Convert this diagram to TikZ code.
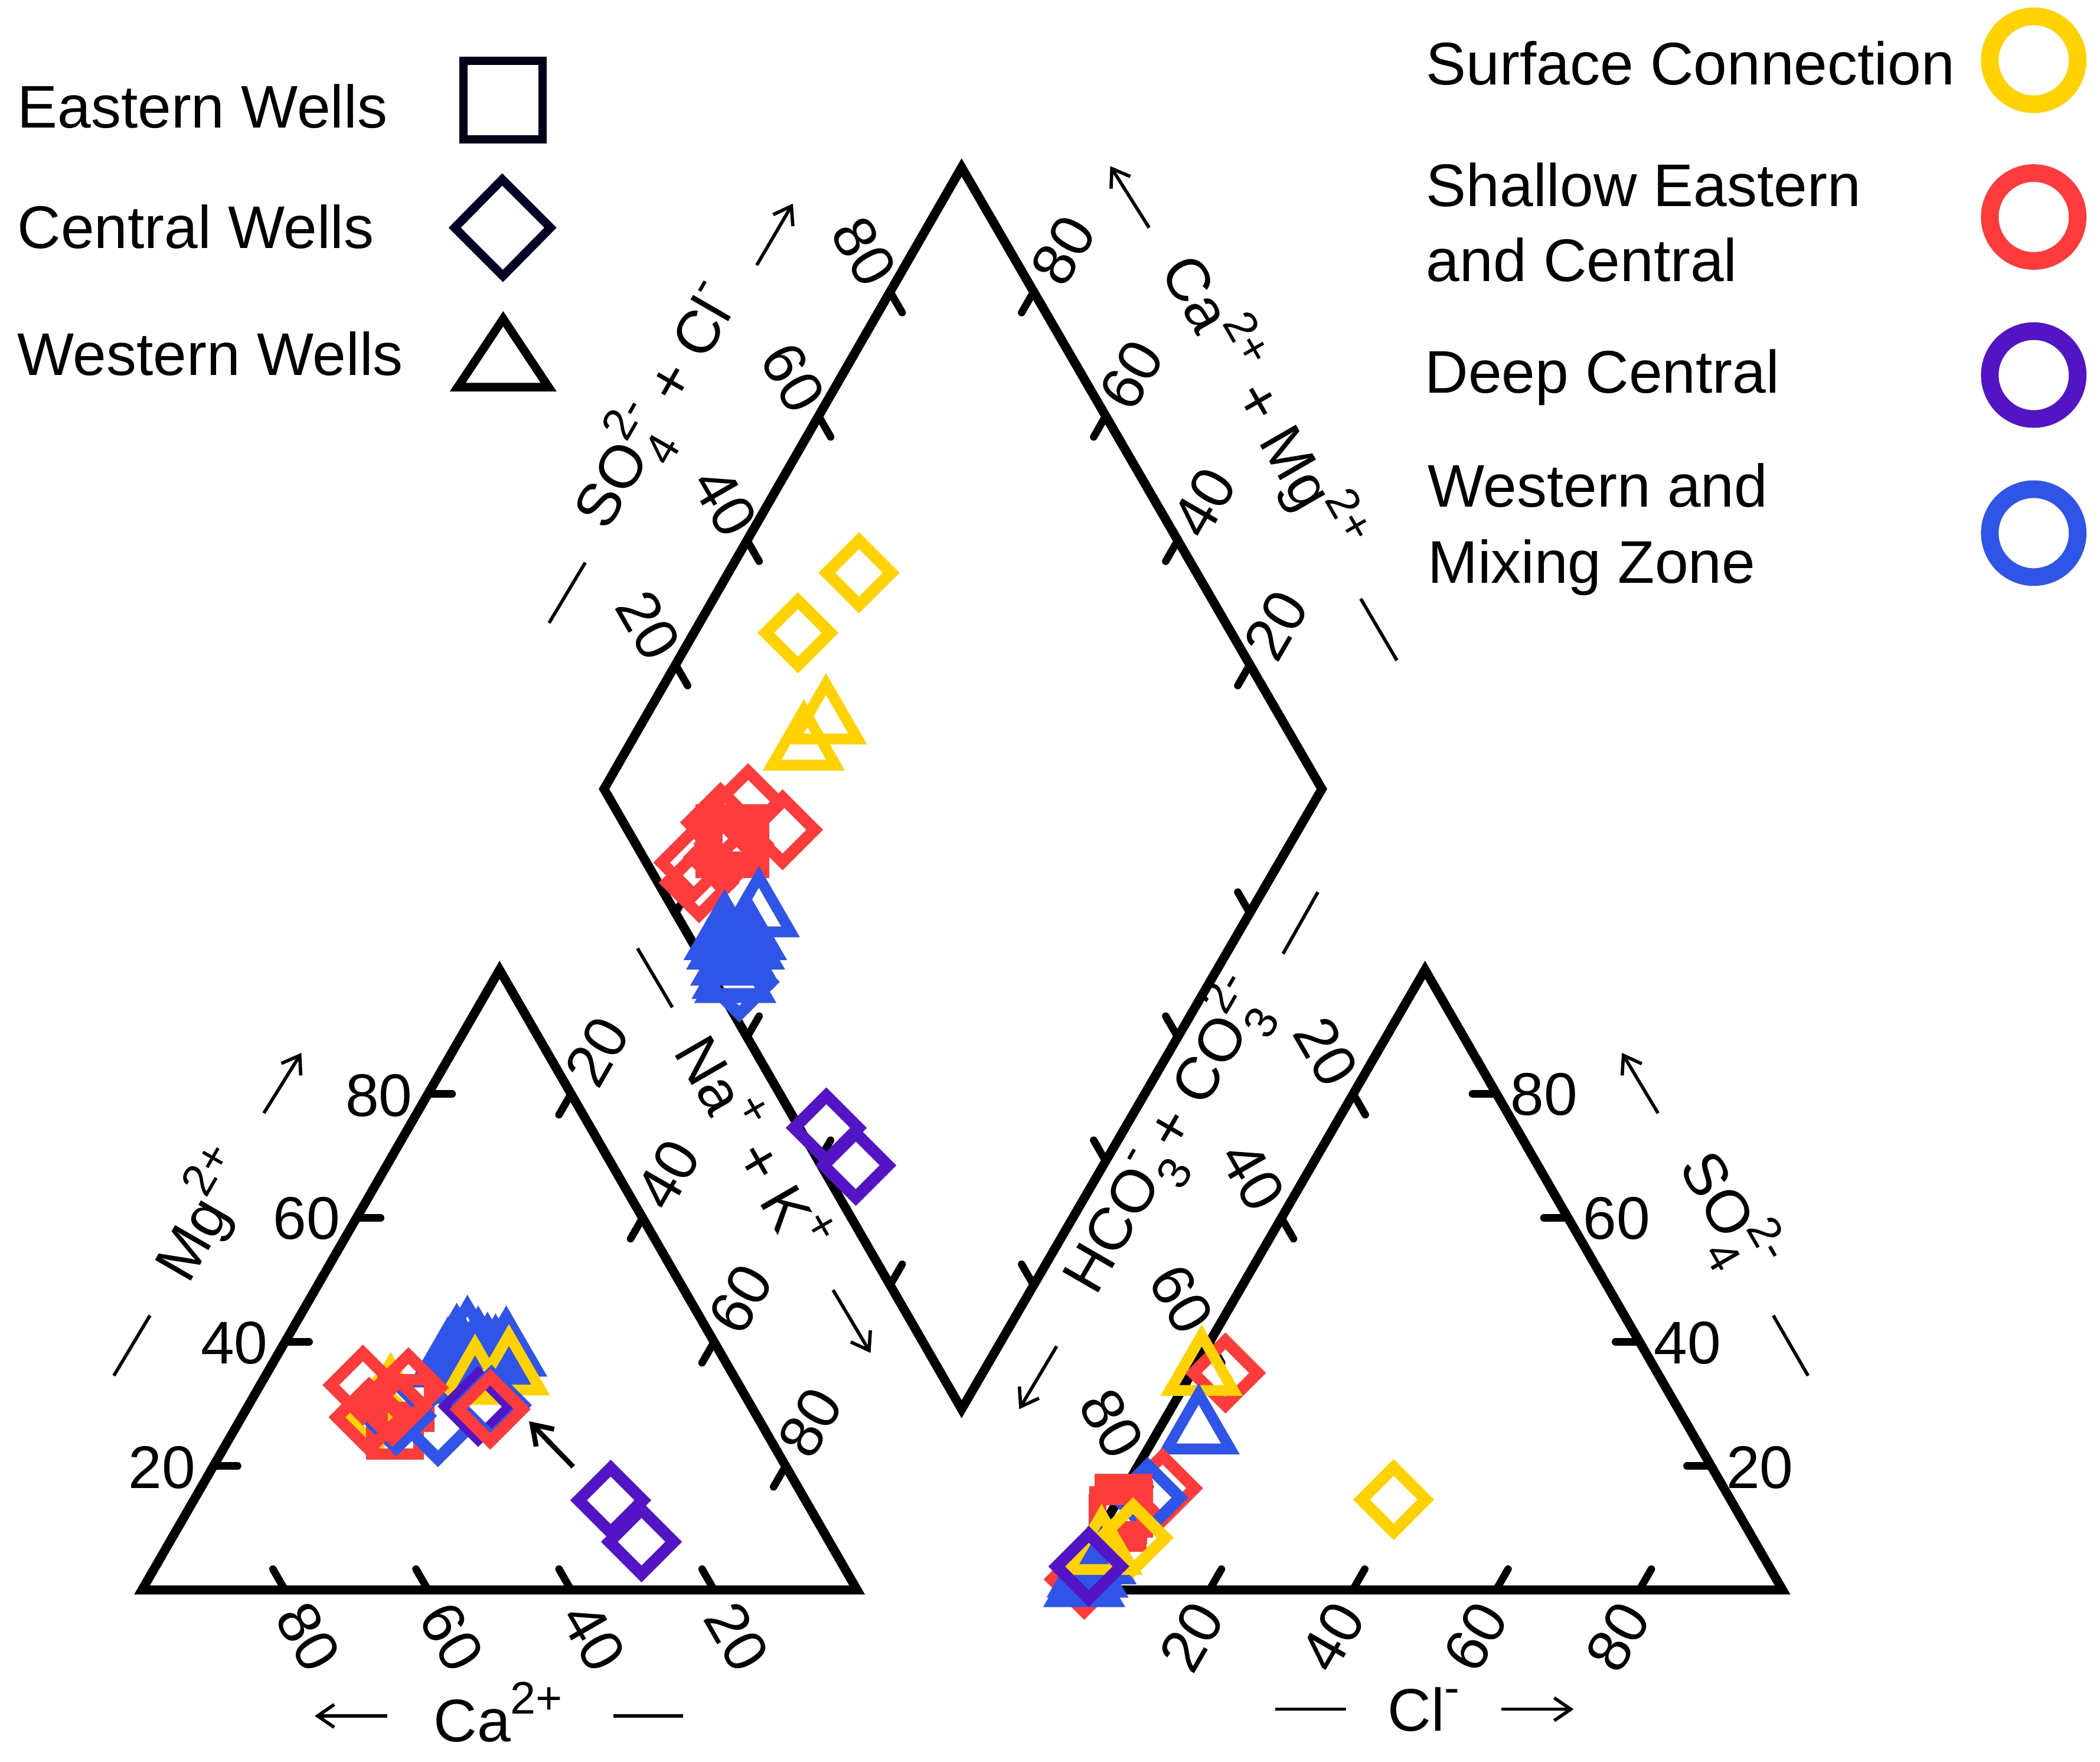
\documentclass[tikz,border=0pt]{standalone}
\usepackage{fontspec}
\setmainfont{Liberation Sans}
\usetikzlibrary{calc,arrows.meta}
\definecolor{cy}{HTML}{FFD200}
\definecolor{cr}{HTML}{FF3B3B}
\definecolor{cp}{HTML}{5314C6}
\definecolor{cb}{HTML}{2F55E8}
\newcommand\tsup[1]{\raisebox{.46em}{\fontsize{22}{22}\selectfont #1}}
\newcommand\tssb[2]{\rlap{\raisebox{-.36em}{\fontsize{22}{22}\selectfont #1}}\raisebox{.46em}{\fontsize{22}{22}\selectfont #2}}
\newcommand\lab[4]{\node[txt,rotate=#4] (#1) at (#2) {#3};}
\newcommand\leg[3]{\node[txt,anchor=west] (#1) at (#2) {#3};}
\newcommand\mdia[3]{\draw[mk,draw=#1] (#2,#3) ++(0,-24) -- ++(24,24) -- ++(-24,24) -- ++(-24,-24) -- cycle;}
\newcommand\mtri[3]{\draw[mk,draw=#1,line width=5.2pt] (#2,#3) ++(0,-27.4) -- ++(23.7,41.1) -- ++(-47.4,0) -- cycle;}
\newcommand\ftri[3]{\draw[mk,draw=#1,fill=#1,line width=5.2pt] (#2,#3) ++(0,-27.4) -- ++(23.7,41.1) -- ++(-47.4,0) -- cycle;}
\newcommand\msq[3]{\draw[mk,draw=#1,line width=5.2pt] (#2,#3) ++(-17.5,-17.5) -- ++(35,0) -- ++(0,35) -- ++(-35,0) -- cycle;}
\newcommand\axa[5]{\coordinate (#1s) at (#2,#3); \coordinate (#1e) at (#4,#5); \draw[thinarrow] (#1s) -- (#1e);}
\newcommand\axd[5]{\coordinate (#1s) at (#2,#3); \coordinate (#1e) at (#4,#5); \draw[thinline] (#1s) -- (#1e);}
\newcommand\ticks[4]{\foreach \f in {.2,.4,.6,.8} \draw[tickline] ($(#1)!\f!(#2)$) -- ++(#3,#4);}
\tikzset{
  txt/.style={inner sep=0pt,outer sep=0pt,font=\fontsize{29}{29}\selectfont,text height=19.7pt,text depth=0pt,text=black},
  axisline/.style={line width=4.4pt,miter limit=10,line join=miter,black},
  tickline/.style={line width=3.6pt,line cap=round,black},
  thinline/.style={line width=1.6pt,black},
  thinarrow/.style={line width=1.6pt,black,-{Straight Barb[length=8pt,width=11pt,line width=1.6pt]}},
  mk/.style={line width=5.7pt,line join=miter,miter limit=10},
  ring/.style={line width=8.5pt},
}
\begin{document}
\begin{tikzpicture}[x=0.022685cm,y=-0.022685cm]
\useasboundingbox (0,0) rectangle (1568,1315);
% vertices
\coordinate (dT) at (718,125); \coordinate (dR) at (987,589);
\coordinate (dB) at (718,1052); \coordinate (dL) at (451,589);
\coordinate (lA) at (106,1187); \coordinate (lB) at (640,1187); \coordinate (lC) at (373,724);
\coordinate (rA) at (796,1187); \coordinate (rB) at (1331,1187); \coordinate (rC) at (1064,724);
% frames
\draw[axisline] (dT) -- (dR) -- (dB) -- (dL) -- cycle;
\draw[axisline] (lA) -- (lB) -- (lC) -- cycle;
\draw[axisline] (rA) -- (rB) -- (rC) -- cycle;
% ticks
\ticks{dL}{dT}{9}{15.6}
\ticks{dT}{dR}{-9}{15.6}
\ticks{dL}{dB}{9}{-15.6}
\ticks{dR}{dB}{-9}{-15.6}
\ticks{lA}{lB}{-9}{-15.6}
\ticks{lA}{lC}{18}{0}
\ticks{lC}{lB}{-9}{15.6}
\ticks{rA}{rB}{9}{-15.6}
\ticks{rB}{rC}{-18}{0}
\ticks{rC}{rA}{9}{15.6}
% tick labels
\lab{a1}{645,188}{80}{-60}\lab{a2}{592,282}{60}{-60}\lab{a3}{541,375}{40}{-60}\lab{a4}{484,467}{20}{-60}
\lab{b1}{794,187}{80}{60}\lab{b2}{845,280}{60}{60}\lab{b3}{899,375}{40}{60}\lab{b4}{953,467}{20}{60}
\lab{c1}{283,818}{80}{0}\lab{c2}{229,910}{60}{0}\lab{c3}{175,1003}{40}{0}\lab{c4}{121,1096}{20}{0}
\lab{e1}{446,785}{20}{60}\lab{e2}{499,877}{40}{60}\lab{e3}{553,970}{60}{60}\lab{e4}{605,1062}{80}{60}
\lab{f1}{230,1222}{80}{-60}\lab{f2}{337,1222}{60}{-60}\lab{f3}{443,1222}{40}{-60}\lab{f4}{550,1222}{20}{-60}
\lab{g1}{990,785}{20}{-60}\lab{g2}{935,878}{40}{-60}\lab{g3}{882,970}{60}{-60}\lab{g4}{830,1063}{80}{-60}
\lab{h1}{1153,817}{80}{0}\lab{h2}{1207,910}{60}{0}\lab{h3}{1260,1003}{40}{0}\lab{h4}{1314,1096}{20}{0}
\lab{i1}{890,1222}{20}{60}\lab{i2}{995,1222}{40}{60}\lab{i3}{1102,1222}{60}{60}\lab{i4}{1208,1222}{80}{60}
% axis titles
\lab{t1}{490,303}{SO\tssb{4}{2-} + Cl\tsup{-}}{60}
\lab{t2}{941,302}{Ca\tsup{2+} + Mg\tsup{2+}}{-60}
\lab{t3}{560,855}{Na\tsup{+} + K\tsup{+}}{-60}
\lab{t4}{870,848}{HCO\tssb{3}{-} + CO\tssb{3}{2-}}{60}
\lab{t5}{153,908}{Mg\tsup{2+}}{60}
\lab{t6}{1290,905}{SO\tssb{4}{2-}}{-60}
\lab{t7}{372,1285}{Ca\tsup{2+}}{0}
\lab{t8}{1063,1277}{Cl\tsup{-}}{0}
% axis arrows and dashes
\axa{p1}{565}{198}{592}{152} \axd{q1}{410}{465}{437}{420}
\axa{p2}{858}{170}{829}{124} \axd{q2}{1043}{493}{1016}{447}
\axa{p3}{622}{963}{650}{1010} \axd{q3}{502}{752}{476}{708}
\axa{p4}{789}{1005}{761}{1052} \axd{q4}{984}{666}{958}{712}
\axa{p5}{197}{831}{225}{786} \axd{q5}{85}{1027}{112}{982}
\axa{p6}{1238}{831}{1211}{786} \axd{q6}{1350}{1027}{1324}{982}
\axa{p7}{289}{1281}{235}{1281} \axd{q7}{510}{1281}{458}{1281}
\axa{p8}{1121}{1276}{1175}{1276} \axd{q8}{952}{1276}{1005}{1276}
% --- diamond panel markers
\mdia{cy}{641.4}{427.6}\mdia{cy}{595.8}{472.4}
\mtri{cy}{616.7}{538}\mtri{cy}{600.2}{557.5}
\mdia{cr}{558.6}{600}\mdia{cr}{584.3}{619.5}\mdia{cr}{538}{614}
\mdia{cr}{518}{644}\mdia{cr}{522}{659}\mdia{cr}{548}{630}\mdia{cr}{540}{640}
\msq{cr}{547}{628}\msq{cr}{541}{622}\msq{cr}{553}{634}\msq{cr}{541}{634}\msq{cr}{553}{622}
\mtri{cb}{566.6}{682}
\ftri{cb}{541}{699}\ftri{cb}{557}{699}\ftri{cb}{543}{706}\ftri{cb}{555.5}{706}
\ftri{cb}{546}{718}\ftri{cb}{551}{716}
\mtri{cb}{547}{728}\mtri{cb}{549}{731}
\mdia{cb}{552}{733}
\mdia{cp}{617}{842}\mdia{cp}{639}{870}
% --- left triangle markers
\mtri{cb}{349}{1002}\mtri{cb}{364}{1014.6}\mtri{cb}{334.5}{1018}\mtri{cb}{377}{1020}
\mtri{cb}{354}{1022}\mtri{cb}{378}{1010}\mtri{cb}{341}{1008}\mtri{cb}{357}{1010}\mtri{cb}{370}{1016}\mtri{cb}{345}{1016}
\mtri{cy}{354.7}{1031}\mtri{cy}{380}{1024}\mtri{cy}{291.7}{1044.7}
\mdia{cy}{281}{1056}
\msq{cr}{303}{1047.5}\msq{cr}{295}{1068}
\mdia{cb}{327}{1065}\mdia{cb}{296}{1057}
\mdia{cp}{357}{1050}\mdia{cb}{367}{1049}
\mdia{cr}{271}{1034}\mdia{cr}{275.6}{1058}\mdia{cr}{305}{1036}\mdia{cr}{293}{1050}
\mdia{cr}{366}{1052}
\mdia{cp}{456}{1120}\mdia{cp}{479}{1151}
\coordinate (mixS) at (428,1095); \coordinate (mixE) at (395,1061);
\draw[line width=2.4pt,black,-{Straight Barb[length=9pt,width=12pt,line width=2.4pt]}] (mixS) -- (mixE);
% --- right triangle markers
\mdia{cr}{915}{1025}\mtri{cy}{897.2}{1024.3}\mtri{cb}{895}{1068}
\mdia{cr}{868}{1111}\mdia{cb}{857}{1118}
\msq{cr}{839.5}{1126.5}\msq{cr}{834.5}{1137}\msq{cr}{839}{1122}\msq{cr}{835}{1131}
\mdia{cr}{809.5}{1179}
\ftri{cb}{809.5}{1182}\mtri{cb}{818}{1165}\mtri{cb}{812}{1175}
\mdia{cy}{846}{1148}\mtri{cy}{822.5}{1158}
\mdia{cp}{813}{1169.4}
\mdia{cy}{1040.6}{1119.5}
% --- legends
\leg{l1}{13,80}{Eastern Wells}
\leg{l2}{13,170}{Central Wells}
\leg{l3}{13,265}{Western Wells}
\draw[line width=3.9pt,draw=black!90!blue] (346,45.5) rectangle (405,104);
\draw[line width=4.2pt,draw=black!85!blue,miter limit=10] (375,134) -- (411,170) -- (375.5,206) -- (339.5,170) -- cycle;
\draw[line width=4.1pt,black,miter limit=10] (375.7,238) -- (409.6,289) -- (341.8,289) -- cycle;
\leg{r1}{1065,48}{Surface Connection}
\leg{r2}{1065,139}{Shallow Eastern}
\leg{r3}{1065,195}{and Central}
\leg{r4}{1064,278}{Deep Central}
\leg{r5}{1066,363}{Western and}
\leg{r6}{1066,420}{Mixing Zone}
\draw[ring,draw=cy] (1518.5,45) circle (32.8);
\draw[ring,draw=cr] (1518.5,162) circle (32.8);
\draw[ring,draw=cp] (1518.5,280) circle (32.8);
\draw[ring,draw=cb] (1518.5,398) circle (32.8);
\end{tikzpicture}
\end{document}
